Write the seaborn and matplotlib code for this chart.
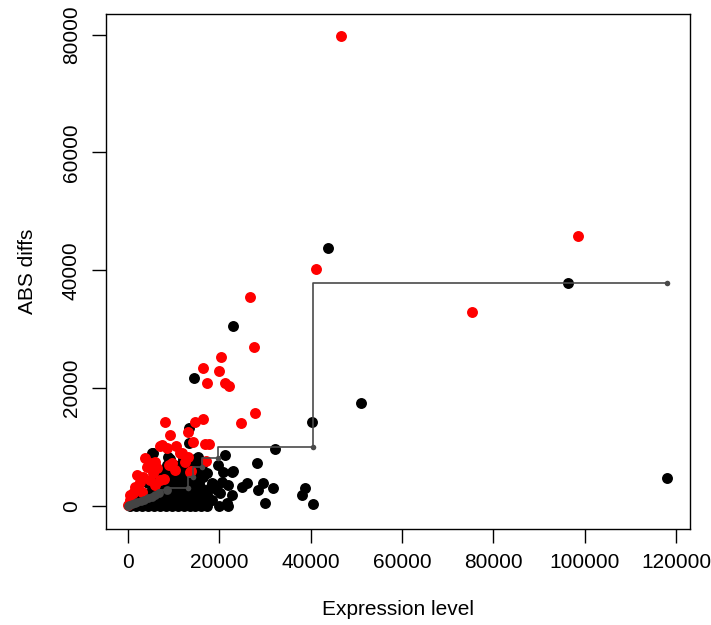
import numpy as np
import pandas as pd
import matplotlib
matplotlib.use("Agg")
import matplotlib.pyplot as plt
import seaborn as sns

# black points (all genes)
black_x = [
    # dense lower block
    500, 1800, 3100, 4400, 5700, 7000, 8300, 9600, 10900, 12200, 13500, 14800, 16100, 17400, 20000, 22000,
    2500, 3800, 5100, 6400, 7700, 9000, 10300, 11600, 12900, 14200, 15500, 16800, 18500,
    4200, 5500, 6800, 8100, 9400, 10700, 12000, 13300, 14600, 15900, 17300,
    5600, 6900, 8200, 9500, 10800, 12100, 13400, 14700, 16000, 18000,
    4500, 6500, 7800, 9100, 10400, 11700, 13000, 14300, 15600,
    6000, 8200, 9500, 10800, 12100, 13400, 14700, 16400,
    7500, 9000, 11200, 12500, 14000, 15300,
    8500, 10000, 11500, 13000, 14500, 16200,
    9200, 12000, 14800,
    # scattered around the block
    5190, 5540, 8820, 15390, 20870, 22710, 23060, 17230, 15990, 21240, 19770, 28180,
    25990, 24900, 20520, 21960, 18330, 29630, 28530, 31820, 38760, 38040, 20150, 22710,
    17960, 21610, 30000, 40580, 15770, 19420, 18680, 32190, 13360, 13420,
    # outliers
    40360, 50960, 14390, 23060, 43860, 96420, 117960,
]
black_y = [
    100, 100, 100, 100, 100, 100, 100, 100, 100, 100, 100, 100, 100, 100, 100, 100,
    1000, 1000, 1000, 1000, 1000, 1000, 1000, 1000, 1000, 1000, 1000, 1000, 1000,
    2000, 2000, 2000, 2000, 2000, 2000, 2000, 2000, 2000, 2000, 2000,
    3000, 3000, 3000, 3000, 3000, 3000, 3000, 3000, 3000, 3000,
    4000, 4000, 4000, 4000, 4000, 4000, 4000, 4000, 4000,
    5000, 5000, 5000, 5000, 5000, 5000, 5000, 5000,
    6000, 6000, 6000, 6000, 6000, 6000,
    7000, 7000, 7000, 7000, 7000, 7000,
    8000, 8000, 8000,
    8950, 9050, 8270, 8270, 5830, 5830, 6000, 5550, 6230, 8660, 6960, 7250,
    3960, 3280, 4130, 3570, 3860, 3960, 2720, 3010, 3010, 1870, 2260, 1870,
    1020, 460, 460, 290, 460, 2720, 3740, 9630, 10650, 13200,
    14320, 17440, 21740, 30620, 43870, 37930, 4700,
]

# red points (flagged genes)
red_x = [
    46640, 98540, 75400, 41100, 26780, 27590, 20300, 16490, 19990, 17360, 21240, 22120,
    27810, 24810, 16360, 8100, 14670, 13200, 9200, 14170, 16860, 17800, 7010, 8470,
    10450, 11760, 13200, 17080, 5910, 4100, 6420, 9040, 10290, 3350, 4820, 2630,
    13730, 1530, 440, 100, 12480, 13580, 4820, 9570, 5540, 7010, 1160, 440,
    11390, 7380, 1970, 3720, 2200, 3000, 6000, 8000,
]
red_y = [
    79700, 45860, 32900, 40200, 35450, 26950, 25260, 23390, 22930, 20940, 20940, 20380,
    15750, 14050, 14780, 14220, 14220, 12520, 12060, 10920, 10530, 10530, 10190, 9900,
    10240, 8950, 8370, 7690, 7520, 6680, 6400, 6960, 6110, 4980, 4420, 4130,
    6000, 3280, 1870, 170, 7520, 5830, 7250, 7250, 5550, 4420, 2160, 1020,
    8950, 10360, 5270, 8150, 3100, 2400, 3500, 4600,
]

# step curve
step_x = [0, 350, 900, 1500, 2100, 2900, 3600, 4300, 5200, 5900, 6900, 8470,
          13200, 14170, 16140, 19780, 40580, 118100]
step_y = [0, 120, 300, 480, 650, 900, 1120, 1350, 1620, 1870, 2200, 2720,
          3000, 4980, 6575, 8100, 9970, 37830]

x_ticks = [0, 20000, 40000, 60000, 80000, 100000, 120000]
y_ticks = [0, 20000, 40000, 60000, 80000]

sns.set_style("ticks")
plt.rcParams["font.family"] = ["Liberation Sans", "DejaVu Sans"]
plt.rcParams["text.color"] = "black"
plt.rcParams["axes.labelcolor"] = "black"
plt.rcParams["xtick.color"] = "black"
plt.rcParams["ytick.color"] = "black"

fig = plt.figure(figsize=(7.11, 6.25), dpi=100)
ax = fig.add_axes([0.149, 0.1544, 0.821, 0.8232])

black = pd.DataFrame({"x": black_x, "y": black_y})
red = pd.DataFrame({"x": red_x, "y": red_y})
steps = pd.DataFrame({"x": step_x, "y": step_y})

sns.scatterplot(data=black, x="x", y="y", color="black", s=62, linewidth=0, ax=ax, zorder=2)
sns.scatterplot(data=red, x="x", y="y", color="#ff0000", s=62, linewidth=0, ax=ax, zorder=3)
sns.lineplot(data=steps, x="x", y="y", estimator=None, drawstyle="steps-pre",
             color="#4a4a4a", lw=1.2, ax=ax, zorder=4)
sns.scatterplot(data=steps.iloc[:12], x="x", y="y", color="#444444", s=40, linewidth=0, ax=ax, zorder=5)
sns.scatterplot(data=steps.iloc[12:], x="x", y="y", color="#4a4a4a", s=16, linewidth=0, ax=ax, zorder=5)

ax.set_xlim(-4800, 123000)
ax.set_ylim(-3800, 83500)
ax.set_xticks(x_ticks)
ax.set_yticks(y_ticks)
ax.set_xticklabels([str(v) for v in x_ticks], fontsize=15, color="black")
ax.set_yticklabels([str(v) for v in y_ticks], fontsize=15, rotation=90, va="center", color="black")
ax.tick_params(axis="both", direction="out", length=10, width=1, color="black", pad=8)
for sp in ax.spines.values():
    sp.set_visible(True)
    sp.set_color("black")
    sp.set_linewidth(1)

ax.set_xlabel("Expression level", fontsize=15, labelpad=20, color="black")
ax.set_ylabel("ABS diffs", fontsize=15, labelpad=18, color="black")

fig.savefig("out.png", dpi=100)
